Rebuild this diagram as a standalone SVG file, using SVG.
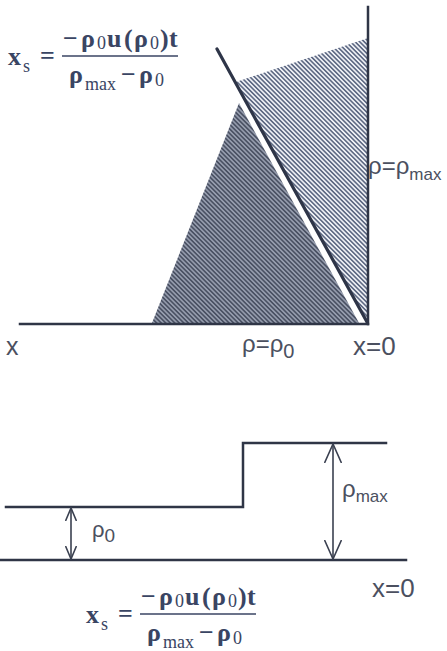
<svg xmlns="http://www.w3.org/2000/svg" width="447" height="651" viewBox="0 0 447 651">
<defs>
<pattern id="hLight" width="3.2" height="3.2" patternUnits="userSpaceOnUse" patternTransform="rotate(-45)">
<rect width="3.2" height="3.2" fill="#eef0f5"/>
<rect width="1.6" height="3.2" fill="#5f6a84"/>
</pattern>
<pattern id="hDark" width="3.2" height="3.2" patternUnits="userSpaceOnUse" patternTransform="rotate(-45)">
<rect width="3.2" height="3.2" fill="#959cad"/>
<rect width="1.6" height="3.2" fill="#4a5163"/>
</pattern>
<marker id="ahBig" viewBox="0 0 20 18" refX="19" refY="9" markerWidth="20" markerHeight="18" markerUnits="userSpaceOnUse" orient="auto-start-reverse">
<path d="M0,0.5 L19,9 L0,17.5" fill="none" stroke="#3a4050" stroke-width="1.6"/>
</marker>
<marker id="ahSmall" viewBox="0 0 14 12" refX="13" refY="6" markerWidth="14" markerHeight="12" markerUnits="userSpaceOnUse" orient="auto-start-reverse">
<path d="M0,0.5 L13,6 L0,11.5" fill="none" stroke="#3a4050" stroke-width="1.6"/>
</marker>
</defs>
<style>
.ax{stroke:#2f3546;stroke-width:2.5;fill:none;stroke-linecap:square}
.dim{stroke:#3a4050;stroke-width:1.6;fill:none}
.lbl{font-family:"Liberation Sans",Arial,sans-serif;fill:#4b5060}
.fm{font-family:"Liberation Serif","Times New Roman",serif;font-weight:bold;fill:#3a4563;font-size:26px}
.fs{font-family:"Liberation Serif","Times New Roman",serif;fill:#3a4563;font-size:18px}
.bar{stroke:#3a4563;stroke-width:1.5}
</style>
<rect width="447" height="651" fill="#ffffff"/>

<g id="formula-top">
<text class="fm" x="8" y="65">x</text>
<text class="fs" x="23" y="72">s</text>
<text class="fm" x="40" y="64">=</text>
<line class="bar" x1="62" y1="56" x2="178" y2="56"/>
<text class="fm" x="63" y="47">−</text>
<text class="fm" x="81" y="47">ρ</text>
<text class="fs" x="97" y="49">0</text>
<text class="fm" x="107" y="47">u</text>
<text class="fm" x="124" y="47">(</text>
<text class="fm" x="134" y="47">ρ</text>
<text class="fs" x="150" y="49">0</text>
<text class="fm" x="160" y="47">)</text>
<text class="fm" x="169" y="47">t</text>
<text class="fm" x="69" y="83">ρ</text>
<text class="fs" x="85" y="90">max</text>
<text class="fm" x="121" y="83">−</text>
<text class="fm" x="139" y="83">ρ</text>
<text class="fs" x="155" y="86">0</text>
</g>

<g id="fan-region">
<polygon points="239,103 152,323 359,323" fill="url(#hDark)"/>
<polygon points="236,82 368,38 368,323 367,323" fill="url(#hLight)"/>
</g>
<g id="shock">
<line x1="217" y1="49" x2="367" y2="322" stroke="#2e3548" stroke-width="3.2" stroke-linecap="round"/>
</g>
<g id="axes-top">
<line class="ax" x1="368" y1="7" x2="368" y2="324"/>
<line class="ax" x1="20" y1="324" x2="368" y2="324"/>
</g>
<g id="labels-top">
<text class="lbl" x="368" y="174" font-size="24">ρ=ρ<tspan font-size="17" dy="6">max</tspan></text>
<text class="lbl" x="6" y="355" font-size="25">x</text>
<text class="lbl" x="242" y="352" font-size="24">ρ=ρ<tspan font-size="20" dy="6">0</tspan></text>
<text class="lbl" x="353" y="355" font-size="26">x=0</text>
</g>

<g id="profile">
<polyline class="ax" points="6,507 243,507 243,443 386,443"/>
<line class="ax" x1="0" y1="560" x2="406" y2="560"/>
</g>
<g id="connectors">
<line class="dim" x1="71" y1="508" x2="71" y2="559" marker-start="url(#ahSmall)" marker-end="url(#ahSmall)"/>
<line class="dim" x1="333" y1="444" x2="333" y2="559" marker-start="url(#ahBig)" marker-end="url(#ahBig)"/>
</g>
<g id="labels-bottom">
<text class="lbl" x="92" y="537" font-size="22">ρ<tspan font-size="19" dy="5">0</tspan></text>
<text class="lbl" x="342" y="497" font-size="24">ρ<tspan font-size="17" dy="5">max</tspan></text>
<text class="lbl" x="372" y="597" font-size="26">x=0</text>
</g>

<g id="formula-bottom" transform="translate(78,558)">
<text class="fm" x="8" y="65">x</text>
<text class="fs" x="23" y="72">s</text>
<text class="fm" x="40" y="64">=</text>
<line class="bar" x1="62" y1="56" x2="178" y2="56"/>
<text class="fm" x="63" y="47">−</text>
<text class="fm" x="81" y="47">ρ</text>
<text class="fs" x="97" y="49">0</text>
<text class="fm" x="107" y="47">u</text>
<text class="fm" x="124" y="47">(</text>
<text class="fm" x="134" y="47">ρ</text>
<text class="fs" x="150" y="49">0</text>
<text class="fm" x="160" y="47">)</text>
<text class="fm" x="169" y="47">t</text>
<text class="fm" x="69" y="83">ρ</text>
<text class="fs" x="85" y="90">max</text>
<text class="fm" x="121" y="83">−</text>
<text class="fm" x="139" y="83">ρ</text>
<text class="fs" x="155" y="86">0</text>
</g>
</svg>
